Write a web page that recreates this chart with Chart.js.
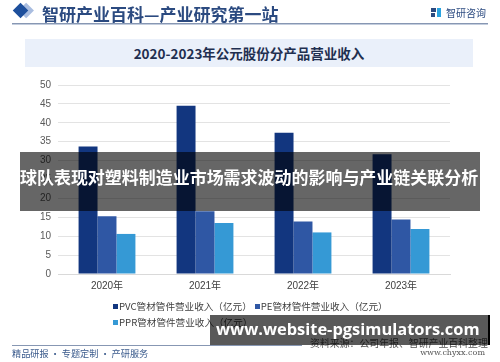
<!DOCTYPE html>
<html>
<head>
<meta charset="utf-8">
<script src="https://cdn.jsdelivr.net/npm/chart.js@4.4.1/dist/chart.umd.min.js"></script>
<style>
  html, body { margin: 0; padding: 0; background: #fff; }
  body { width: 500px; height: 362px; position: relative; overflow: hidden;
         font-family: "Liberation Sans", "Noto Sans CJK SC", sans-serif; }
  .abs { position: absolute; }
  #chartWrap { left: 0; top: 0; width: 500px; height: 362px; }
  #diamond { left: 15px; top: 5px; width: 11px; height: 11px; background: #1d4f9c;
             transform: rotate(45deg); box-shadow: 4px -4px 0 #a9bde0; }
  #head { left: 42px; top: 1px; font: bold 17px "Noto Sans CJK SC", sans-serif; color: #2b4a80; white-space: nowrap; }
  #headLine { left: 12px; top: 23px; width: 476px; height: 1px; background: #8797b3; border-bottom: 1px solid #c3cddd; }
  #logoIcon { left: 431px; top: 8px; width: 10px; height: 9px; }
  #logoText { left: 446px; top: 5px; font: 10px "Noto Sans CJK SC", sans-serif; color: #2b4a80; white-space: nowrap; }
  #titleBox { left: 25px; top: 39px; width: 448px; height: 28px; background: #eaf0fa;
              font: bold 13.5px "Noto Sans CJK SC", sans-serif; color: #1f2f50; text-align: center; line-height: 28px; }
  #legend { left: 113px; top: 298px; width: 300px; font: 9.6px "Noto Sans CJK SC", "Liberation Sans", sans-serif; color: #404040; }
  #legend span.item { display: inline-block; margin-right: 3px; height: 16px; line-height: 16px; white-space: nowrap; }
  #legend i { display: inline-block; width: 5px; height: 5px; margin-right: 1px; vertical-align: 1px; }
  #footLine { left: 12px; top: 345px; width: 290px; height: 1px; background: #8797b3; }
  #footL { left: 12px; top: 346px; font: 10.5px "Noto Sans CJK SC", sans-serif; color: #3a5a8c; white-space: nowrap; }
  #source { left: 310px; top: 336px; font: 10.5px "Noto Sans CJK SC", sans-serif; color: #555; white-space: nowrap; }
  #site { right: 15px; top: 348px; font: 8px "DejaVu Serif", serif; color: #555; white-space: nowrap; }
  #band1 { left: 20px; top: 152px; width: 460px; height: 59px; background: rgba(0,0,0,0.6); }
  #band1Text { left: 20px; top: 165px; font: bold 17.6px "Noto Sans CJK SC", sans-serif; color: #fff;
               white-space: nowrap; line-height: 24px; }
  #band2 { left: 210px; top: 315px; width: 278px; height: 30px; background: rgba(0,0,0,0.65); border-right: 2px solid #000; }
  #band2Text { left: 216px; top: 316px; font: bold 19px "Open Sans", sans-serif; color: #fff; white-space: nowrap;
               line-height: 26px; }
</style>
</head>
<body>
<div id="chartWrap" class="abs"><canvas id="revChart" width="500" height="362"></canvas></div>

<div id="diamond" class="abs"></div>
<div id="head" class="abs">智研产业百科—产业研究第一站</div>
<div id="headLine" class="abs"></div>
<svg id="logoIcon" class="abs" viewBox="0 0 10 9">
  <rect x="0" y="0" width="5" height="4" fill="#2b4a80"/>
  <rect x="0" y="5" width="4" height="4" fill="#2b4a80"/>
  <rect x="6" y="0" width="4" height="9" fill="#29a3e0"/>
</svg>
<div id="logoText" class="abs">智研咨询</div>
<div id="titleBox" class="abs">2020-2023年公元股份分产品营业收入</div>
<div id="legend" class="abs"></div>
<div id="footLine" class="abs"></div>
<div id="footL" class="abs">精品研报 · 专题定制 · 产研服务</div>
<div id="source" class="abs">资料来源：公司年报、智研产业百科整理</div>
<div id="site" class="abs">www.chyxx.com</div>
<div id="band1" class="abs"></div>
<div id="band1Text" class="abs">球队表现对塑料制造业市场需求波动的影响与产业链关联分析</div>
<div id="band2" class="abs"></div>
<div id="band2Text" class="abs">www.website-pgsimulators.com</div>

<script>
// data
const years = ['2020年', '2021年', '2022年', '2023年'];
const pvcRevenue = [33.7, 44.5, 37.4, 31.7];
const peRevenue = [15.3, 16.6, 13.9, 14.4];
const pprRevenue = [10.6, 13.5, 11.0, 11.9];
const seriesNames = ['PVC管材管件营业收入（亿元）', 'PE管材管件营业收入（亿元）', 'PPR管材管件营业收入（亿元）'];
const seriesColors = ['#12367f', '#2f57a4', '#3599d5'];
const yTicks = [0, 5, 10, 15, 20, 25, 30, 35, 40, 45, 50];

const ctx = document.getElementById('revChart').getContext('2d');
const chart = new Chart(ctx, {
    type: 'bar',
    data: {
        labels: years,
        datasets: [pvcRevenue, peRevenue, pprRevenue].map((vals, i) => ({
            label: seriesNames[i],
            data: vals,
            backgroundColor: seriesColors[i],
            borderWidth: 0,
            categoryPercentage: 0.58,
            barPercentage: 1.0
        }))
    },
    options: {
        responsive: false,
        animation: false,
        layout: { padding: { left: 0, right: 50, top: 85, bottom: 0 } },
        plugins: { legend: { display: false }, tooltip: { enabled: false } },
        scales: {
            x: {
                grid: { display: false, drawTicks: false },
                border: { display: true, color: '#d9d9d9' },
                ticks: { padding: 6, color: '#404040', font: { size: 10, family: '"Liberation Sans", "Noto Sans CJK SC"' } },
                afterFit: s => { s.height = 88; }
            },
            y: {
                min: 0, max: 50,
                afterBuildTicks: s => { s.ticks = yTicks.map(v => ({ value: v })); },
                grid: { color: '#e3e3e3', drawTicks: false },
                border: { display: false },
                ticks: { padding: 7, color: '#595959', font: { size: 10, family: '"Liberation Sans"' } },
                afterFit: s => { s.width = 58; }
            }
        }
    }
});

// HTML legend from the chart's datasets
const legend = document.getElementById('legend');
chart.data.datasets.forEach((ds, i) => {
    const item = document.createElement('span');
    item.className = 'item';
    item.innerHTML = '<i style="background:' + ds.backgroundColor + '"></i>' + ds.label;
    legend.appendChild(item);
    if (i === 1) legend.appendChild(document.createElement('br'));
});

// squeeze texts to the widths seen in the reference
function fitWidth(id, target) {
    const el = document.getElementById(id);
    const size = parseFloat(getComputedStyle(el).fontSize);
    el.style.fontSize = (size * target / el.scrollWidth) + 'px';
}
fitWidth('band1Text', 458);
fitWidth('band2Text', 264);
fitWidth('footL', 136);
fitWidth('source', 178);
</script>
</body>
</html>
